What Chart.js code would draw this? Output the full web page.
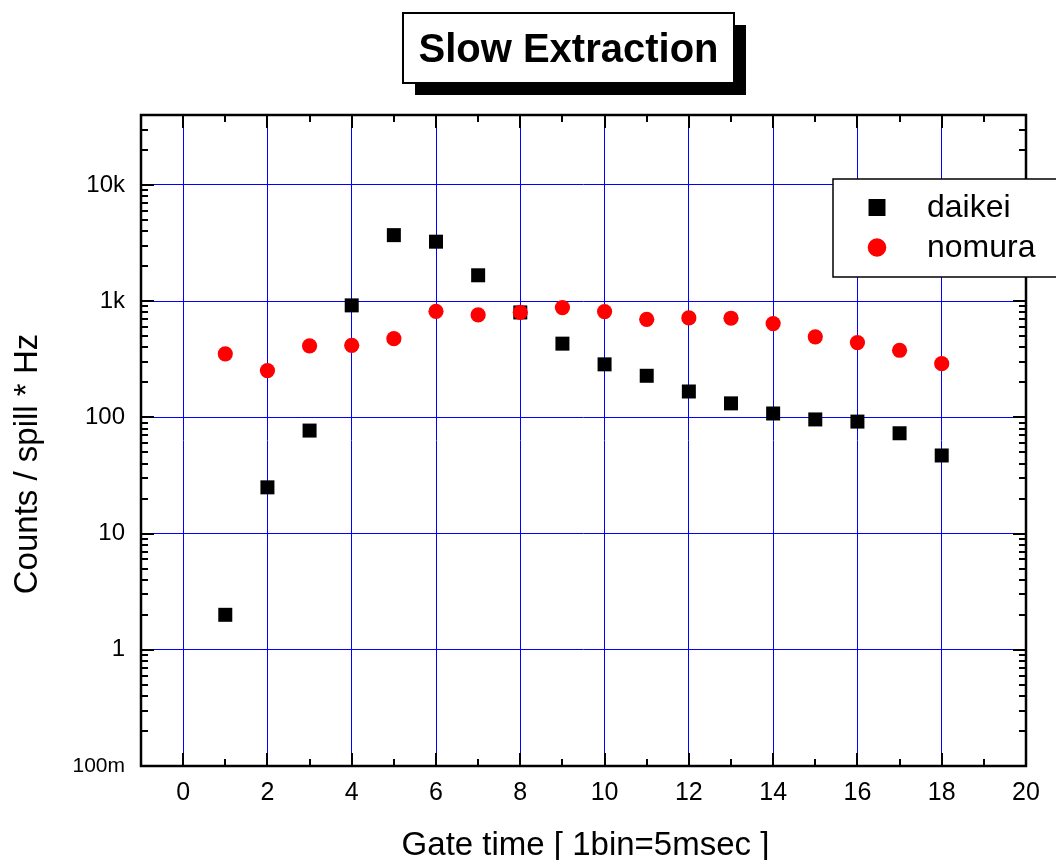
<!DOCTYPE html>
<html>
<head>
<meta charset="utf-8">
<title>Slow Extraction</title>
<script src="https://cdn.jsdelivr.net/npm/chart.js@4/dist/chart.umd.min.js"></script>
<style>
  html, body { margin: 0; padding: 0; background: #ffffff; }
  #wrap { width: 1056px; height: 860px; position: relative; overflow: hidden; }
  canvas { display: block; }
</style>
</head>
<body>
<div id="wrap"><canvas id="chart" width="1056" height="860"></canvas></div>
<script>
// Gate time bins (1 bin = 5 msec)
const gateBins = [1, 2, 3, 4, 5, 6, 7, 8, 9, 10, 11, 12, 13, 14, 15, 16, 17, 18];

// Counts / spill * Hz per bin
const daikeiCounts = [2, 25, 77, 920, 3700, 3250, 1670, 800, 431, 286, 228, 167, 132, 108, 96, 92, 73, 47];
const nomuraCounts = [352, 253, 412, 417, 476, 818, 762, 802, 880, 813, 698, 718, 713, 641, 493, 440, 378, 290];

const seriesNames = ['daikei', 'nomura'];

// Axis ranges and tick labels
const xMin = -1, xMax = 20;
const xTickValues = [0, 2, 4, 6, 8, 10, 12, 14, 16, 18, 20];
const xMinorValues = [1, 3, 5, 7, 9, 11, 13, 15, 17, 19];
const yMin = 0.1, yMax = 40000;
const yTickValues = [0.1, 1, 10, 100, 1000, 10000];
const yTickLabels = ['100m', '1', '10', '100', '1k', '10k'];

const titleText = 'Slow Extraction';
const xTitleText = 'Gate time [ 1bin=5msec ]';
const yTitleText = 'Counts / spill * Hz';

const FONT = 'Arial, "Liberation Sans", Helvetica, sans-serif';
const GRID_BLUE = 'rgb(0,0,255)';

const toPoints = (ys) => gateBins.map((x, i) => ({ x: x, y: ys[i] }));

// Frame, inward ticks, axis titles, legend and boxed title
const decorations = {
  id: 'decorations',
  afterDraw(chart) {
    const ctx = chart.ctx;
    const a = chart.chartArea;
    const xs = chart.scales.x, ys = chart.scales.y;
    ctx.save();

    // frame
    ctx.strokeStyle = '#000';
    ctx.lineWidth = 2.5;
    ctx.strokeRect(a.left, a.top, a.right - a.left, a.bottom - a.top);

    // tick marks pointing into the plot on all four sides
    ctx.lineWidth = 2;
    ctx.beginPath();
    const majorLen = 13, minorLen = 7;
    const vTick = (px, len) => {
      ctx.moveTo(px, a.bottom); ctx.lineTo(px, a.bottom - len);
      ctx.moveTo(px, a.top); ctx.lineTo(px, a.top + len);
    };
    const hTick = (py, len) => {
      ctx.moveTo(a.left, py); ctx.lineTo(a.left + len, py);
      ctx.moveTo(a.right, py); ctx.lineTo(a.right - len, py);
    };
    xTickValues.forEach(v => vTick(Math.round(xs.getPixelForValue(v)), majorLen));
    xMinorValues.forEach(v => vTick(Math.round(xs.getPixelForValue(v)), minorLen));
    yTickValues.forEach(v => hTick(Math.round(ys.getPixelForValue(v)), majorLen));
    yTickValues.forEach(dec => {
      for (let k = 2; k <= 9; k++) {
        const v = dec * k;
        if (v >= yMax) break;
        hTick(Math.round(ys.getPixelForValue(v)), minorLen);
      }
    });
    ctx.stroke();

    // axis titles
    ctx.fillStyle = '#000';
    ctx.font = '33px ' + FONT;
    ctx.textAlign = 'center';
    ctx.textBaseline = 'alphabetic';
    ctx.fillText(xTitleText, (a.left + a.right) / 2 + 2, 855);
    ctx.save();
    ctx.translate(37, 464);
    ctx.rotate(-Math.PI / 2);
    ctx.fillText(yTitleText, 0, 0);
    ctx.restore();

    // legend box
    const lx = 833, ly = 179, lw = 240, lh = 98;
    ctx.fillStyle = '#fff';
    ctx.fillRect(lx, ly, lw, lh);
    ctx.strokeStyle = '#000';
    ctx.lineWidth = 1.5;
    ctx.strokeRect(lx, ly, lw, lh);
    const rows = [207.5, 247.5];
    const legendRadius = { rect: 12, circle: 9.3 };
    chart.data.datasets.forEach((ds, i) => {
      const style = {
        pointStyle: ds.pointStyle,
        radius: legendRadius[ds.pointStyle],
        rotation: 0,
        borderWidth: 0
      };
      ctx.fillStyle = ds.backgroundColor;
      ctx.strokeStyle = ds.backgroundColor;
      Chart.helpers.drawPoint(ctx, style, 877, rows[i]);
      ctx.fillStyle = '#000';
      ctx.font = '32px ' + FONT;
      ctx.textAlign = 'left';
      ctx.textBaseline = 'middle';
      ctx.fillText(ds.label, 927, rows[i] + 1);
    });

    // boxed title with drop shadow
    const tx = 403, ty = 13, tw = 331, th = 70, sh = 12;
    ctx.fillStyle = '#000';
    ctx.fillRect(tx + sh, ty + sh, tw, th);
    ctx.fillStyle = '#fff';
    ctx.fillRect(tx, ty, tw, th);
    ctx.strokeStyle = '#000';
    ctx.lineWidth = 2;
    ctx.strokeRect(tx, ty, tw, th);
    ctx.fillStyle = '#000';
    ctx.font = 'bold 40px ' + FONT;
    ctx.textAlign = 'center';
    ctx.textBaseline = 'alphabetic';
    ctx.fillText(titleText, tx + tw / 2, 62);

    ctx.restore();
  }
};

new Chart(document.getElementById('chart'), {
  type: 'scatter',
  data: {
    datasets: [
      {
        label: seriesNames[0],
        data: toPoints(daikeiCounts),
        pointStyle: 'rect',
        pointRadius: 9.9,
        pointBorderWidth: 0,
        backgroundColor: '#000000',
        borderColor: '#000000',
        order: 1
      },
      {
        label: seriesNames[1],
        data: toPoints(nomuraCounts),
        pointStyle: 'circle',
        pointRadius: 7.6,
        pointBorderWidth: 0,
        backgroundColor: '#ff0000',
        borderColor: '#ff0000',
        order: 0
      }
    ]
  },
  options: {
    responsive: false,
    animation: false,
    devicePixelRatio: 1,
    layout: { padding: { top: 115, right: 30, left: 0, bottom: 0 } },
    plugins: {
      legend: { display: false },
      title: { display: false },
      tooltip: { enabled: false }
    },
    scales: {
      x: {
        type: 'linear',
        min: xMin,
        max: xMax,
        afterBuildTicks: (s) => { s.ticks = xTickValues.map(v => ({ value: v })); },
        afterFit: (s) => { s.height = 94; },
        ticks: {
          color: '#000',
          font: { family: FONT, size: 25 },
          padding: 12,
          maxRotation: 0,
          autoSkip: false
        },
        grid: {
          drawTicks: false,
          lineWidth: 1,
          color: GRID_BLUE
        },
        border: { display: false }
      },
      y: {
        type: 'logarithmic',
        min: yMin,
        max: yMax,
        afterBuildTicks: (s) => { s.ticks = yTickValues.map(v => ({ value: v })); },
        afterFit: (s) => { s.width = 141; },
        ticks: {
          color: '#000',
          font: (c) => ({ family: FONT, size: c.index === 0 ? 21 : 24 }),
          padding: 16,
          autoSkip: false,
          callback: (v) => {
            const i = yTickValues.findIndex(t => Math.abs(t - v) / t < 1e-6);
            return i >= 0 ? yTickLabels[i] : '';
          }
        },
        grid: {
          drawTicks: false,
          lineWidth: 1,
          color: GRID_BLUE
        },
        border: { display: false }
      }
    }
  },
  plugins: [decorations]
});
</script>
</body>
</html>
